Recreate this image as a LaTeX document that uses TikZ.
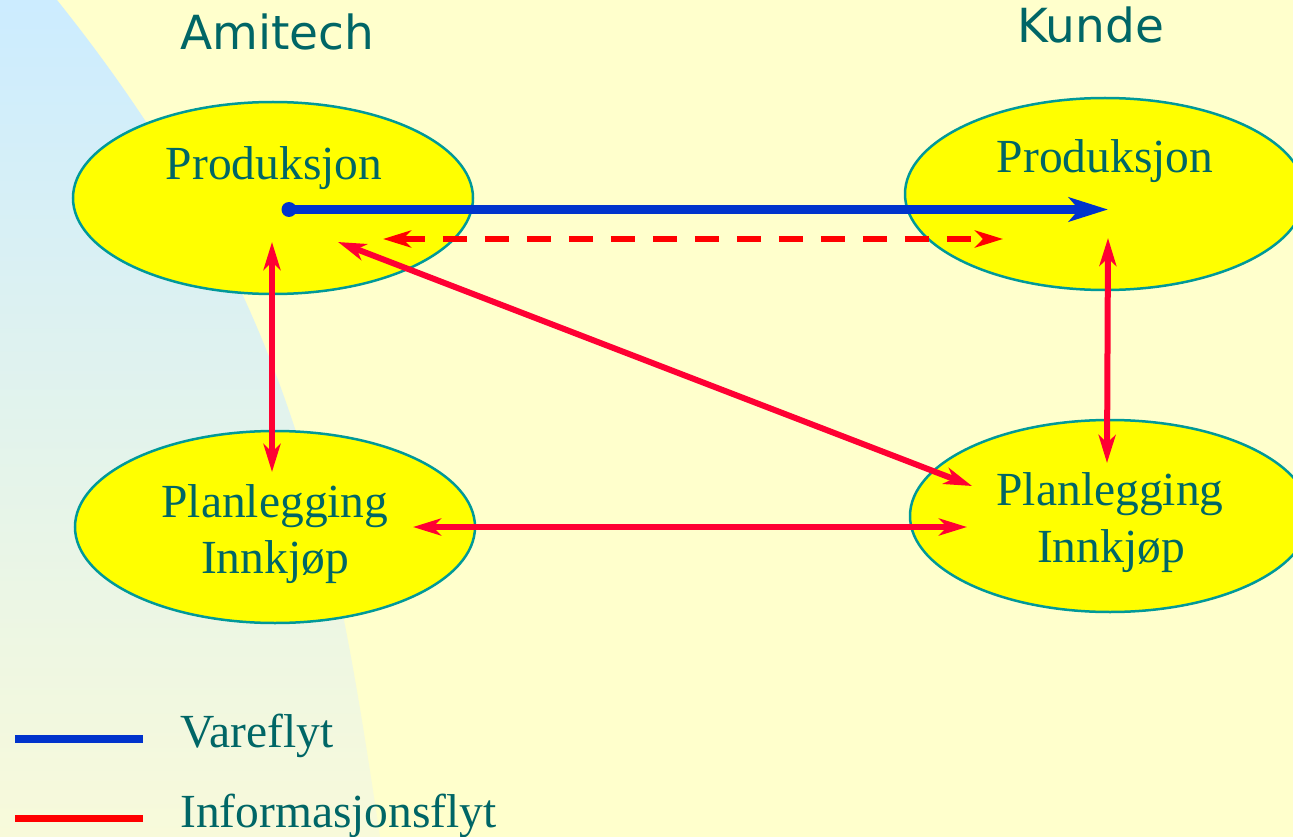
\documentclass[tikz,border=0pt]{standalone}
\usepackage{fontspec}
\setmainfont{Liberation Serif}
\newfontfamily\titlefont{DejaVu Sans}
\usetikzlibrary{shapes.geometric,arrows.meta}
\definecolor{bgyellow}{RGB}{255,255,204}
\definecolor{elfill}{RGB}{255,255,0}
\definecolor{elborder}{RGB}{0,153,153}
\definecolor{txt}{RGB}{0,102,102}
\definecolor{flowblue}{RGB}{0,51,204}
\definecolor{infored}{RGB}{255,0,51}
\definecolor{dashred}{RGB}{255,0,0}
\definecolor{skyblue}{RGB}{204,236,255}
\definecolor{paleyel}{RGB}{248,250,218}
\begin{document}
\begin{tikzpicture}[x=1pt,y=-1pt,
  proc/.style={ellipse,draw=elborder,line width=2.5pt,fill=elfill,minimum width=400pt,minimum height=192pt,inner sep=0pt},
  lbl/.style={text=txt,font=\fontsize{47.5}{56}\selectfont,anchor=base,inner sep=0pt},
  legtxt/.style={text=txt,font=\fontsize{47.5}{56}\selectfont,anchor=base west,inner sep=0pt},
  ttl/.style={text=txt,font=\titlefont\fontsize{47}{56}\selectfont,anchor=base west,inner sep=0pt},
  info/.style={draw=infored,line width=6pt,{Stealth[length=28pt,width=17pt,inset=8pt]}-{Stealth[length=28pt,width=17pt,inset=8pt]}},
  infodash/.style={draw=dashred,line width=6pt,dash pattern=on 24pt off 18pt,{Stealth[length=28pt,width=17pt,inset=8pt]}-{Stealth[length=28pt,width=17pt,inset=8pt]}},
  flow/.style={draw=flowblue,line width=9pt,-{Stealth[length=39pt,width=24pt,inset=10pt]}}
]
\useasboundingbox (0,0) rectangle (1293,837);
\clip (0,0) rectangle (1293,837);
% background
\fill[bgyellow] (0,0) rectangle (1293,837);
\shade[top color=skyblue,bottom color=paleyel] (0,0) -- (57,0) .. controls (297,300) and (335,537) .. (380,837) -- (0,837) -- cycle;
% titles
\node[ttl] (amitech) at (180,50) {Amitech};
\node[ttl] (kunde) at (1017,43) {Kunde};
% ellipses
\node[proc] (pa) at (273,198) {};
\node[proc] (pk) at (1105,194) {};
\node[proc] (la) at (275,527) {};
\node[proc] (lk) at (1110,516) {};
% texts
\node[lbl] (pat) at (274,180) {Produksjon};
\node[lbl] (pkt) at (1105,173) {Produksjon};
\node[lbl] (la1) at (275,517) {Planlegging};
\node[lbl] (la2) at (275,573) {Innkjøp};
\node[lbl] (lk1) at (1110,505) {Planlegging};
\node[lbl] (lk2) at (1111,562) {Innkjøp};
% connector end points
\node[circle,fill=flowblue,minimum size=15pt,inner sep=0pt] (dot) at (289,209.5) {};
\coordinate (bEnd) at (1108,209.5);
\coordinate (dL) at (383,239);
\coordinate (dR) at (1003,239);
\coordinate (vLt) at (272,242);
\coordinate (vLb) at (272,472);
\coordinate (vRt) at (1108,238);
\coordinate (vRb) at (1107,463);
\coordinate (dgA) at (338,242);
\coordinate (dgB) at (972,486);
\coordinate (hL) at (413,527);
\coordinate (hR) at (967,527);
% connectors
\draw[flow] (dot.center) -- (bEnd);
\draw[infodash] (dL) -- (dR);
\draw[info] (vLt) -- (vLb);
\draw[info] (vRt) -- (vRb);
\draw[info] (dgA) -- (dgB);
\draw[info] (hL) -- (hR);
% legend
\coordinate (lb1) at (15,739);
\coordinate (lb2) at (143,739);
\coordinate (lr1) at (15,818);
\coordinate (lr2) at (143,818);
\draw[flowblue,line width=8pt] (lb1) -- (lb2);
\draw[dashred,line width=7pt] (lr1) -- (lr2);
\node[legtxt] (vare) at (180,747) {Vareflyt};
\node[legtxt] (infoflyt) at (180,827) {Informasjonsflyt};
\end{tikzpicture}
\end{document}
